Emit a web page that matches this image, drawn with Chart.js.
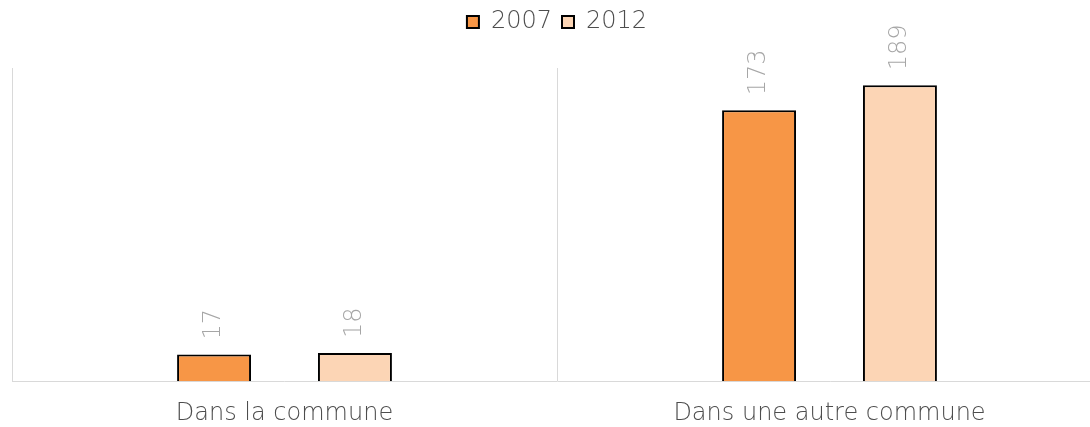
<!DOCTYPE html>
<html>
<head>
<meta charset="utf-8">
<script src="https://cdn.jsdelivr.net/npm/chart.js@4/dist/chart.umd.min.js"></script>
<style>
  html, body { margin: 0; padding: 0; background: #fff; overflow: hidden; }
  #wrap { width: 1102px; height: 446px; }
</style>
</head>
<body>
<div id="wrap"><canvas id="chart"></canvas></div>
<script>
    "use strict";

    // Data
    var categories = ["Dans la commune", "Dans une autre commune"];
    var years = ["2007", "2012"];
    var values2007 = [17, 173];
    var values2012 = [18, 189];

    var fontFamily = "'DejaVu Sans', sans-serif";

    // Rotated value labels above each bar
    var valueLabels = {
        id: "valueLabels",
        afterDatasetsDraw: function (chart) {
            var ctx = chart.ctx;
            ctx.save();
            ctx.fillStyle = "#a6a6a6";
            ctx.font = "200 24px " + fontFamily;
            ctx.textAlign = "left";
            ctx.textBaseline = "middle";
            chart.data.datasets.forEach(function (ds, i) {
                chart.getDatasetMeta(i).data.forEach(function (bar, j) {
                    ctx.save();
                    ctx.translate(bar.x, bar.y - 15);
                    ctx.rotate(-Math.PI / 2);
                    ctx.fillText(ds.data[j], 0, 0);
                    ctx.restore();
                });
            });
            ctx.restore();
        }
    };

    // Extra space under the legend
    var legendGap = {
        id: "legendGap",
        beforeInit: function (chart) {
            var fit = chart.legend.fit;
            chart.legend.fit = function () {
                fit.bind(chart.legend)();
                this.height += 24;
            };
        }
    };

    var ctx1 = document.getElementById("chart").getContext("2d");
    var myChart1 = new Chart(ctx1, {
        type: "bar",
        data: {
            labels: categories,
            datasets: [{
                    label: years[0],
                    data: values2007,
                    backgroundColor: "#f79646",
                    borderColor: "#000000",
                    borderWidth: 2,
                    categoryPercentage: 0.517,
                    barPercentage: 0.525
                },
                {
                    label: years[1],
                    data: values2012,
                    backgroundColor: "#fcd5b5",
                    borderColor: "#000000",
                    borderWidth: 2,
                    categoryPercentage: 0.517,
                    barPercentage: 0.525
                }
            ]
        },
        options: {
            responsive: true,
            maintainAspectRatio: false,
            animation: false,
            layout: { padding: { left: 12, top: 0, right: 0, bottom: 0 } },
            plugins: {
                tooltip: { enabled: false },
                legend: {
                    position: "top",
                    labels: {
                        boxWidth: 12,
                        boxHeight: 12,
                        padding: 10,
                        color: "#4d4d4d",
                        font: { family: fontFamily, size: 24, weight: 200 }
                    }
                }
            },
            scales: {
                x: {
                    grid: { display: true, color: "#d9d9d9", drawTicks: false, offset: true },
                    border: { color: "#d9d9d9" },
                    ticks: {
                        color: "#4d4d4d",
                        padding: 18,
                        font: { family: fontFamily, size: 24, weight: 200 }
                    }
                },
                y: {
                    display: false,
                    min: 0,
                    max: 200
                }
            }
        },
        plugins: [valueLabels, legendGap]
    });
</script>
</body>
</html>
